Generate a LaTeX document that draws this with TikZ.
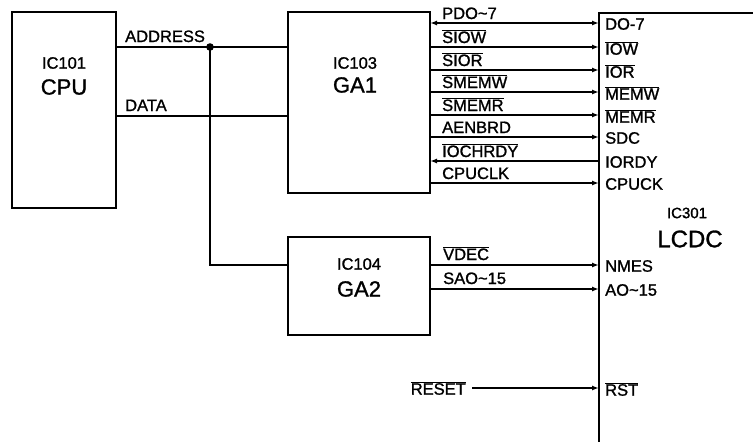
\documentclass[tikz,border=0pt]{standalone}
\usepackage{fontspec}
\setmainfont{Liberation Sans}[FakeBold=1.2]
\usetikzlibrary{arrows.meta}
\newcommand{\ovl}[1]{\ensuremath{\overline{\mbox{#1}}}}
\begin{document}
\begin{tikzpicture}[x=1pt,y=-1pt,
  wire/.style={line width=1.6pt},
  box/.style={draw,line width=2.4pt},
  sig/.style={font=\fontsize{16.5}{16.5}\selectfont,inner sep=0pt,anchor=base west},
  pin/.style={font=\fontsize{16.5}{16.5}\selectfont,inner sep=0pt,anchor=west},
  small/.style={font=\fontsize{16.5}{16.5}\selectfont,inner sep=0pt},
  big/.style={font=\fontsize{22}{22}\selectfont,inner sep=0pt},
  arr/.style={-{Latex[length=7pt,width=5pt]}},
  barr/.style={{Latex[length=7pt,width=5pt]}-{Latex[length=7pt,width=5pt]}},
  larr/.style={{Latex[length=7pt,width=5pt]}-}]
\useasboundingbox (0,0) rectangle (753,445);
\fill[white] (0,0) rectangle (753,445);
% boxes
\draw[box] (12,12) rectangle (116,208);
\draw[box] (288,12) rectangle (430,193);
\draw[box] (288,237) rectangle (430,335);
\draw[box] (760,13) -- (599,13) -- (599,442);
\coordinate (cpuA) at (116,47);
\coordinate (cpuD) at (116,116);
\coordinate (gaA) at (288,47);
\coordinate (gaD) at (288,116);
\coordinate (jn) at (210,47);
\coordinate (g2in) at (288,265);
% labels in boxes
\node[small] (l101) at (64,63) {IC101};
\node[big] (lcpu) at (64,87) {CPU};
\node[small] (l103) at (355,63) {IC103};
\node[big] (lga1) at (355,85) {GA1};
\node[small] (l104) at (359,264) {IC104};
\node[big] (lga2) at (359,289) {GA2};
\node[font=\fontsize{15}{15}\selectfont,inner sep=0pt] (l301) at (687,213) {IC301};
\node[font=\fontsize{24}{24}\selectfont,inner sep=0pt] (llcdc) at (690,239) {LCDC};
% cpu buses
\draw[wire] (cpuA) -- (gaA);
\draw[wire] (cpuD) -- (gaD);
\draw[wire] (jn) |- (g2in);
\fill (jn) circle (3.8pt);
\node[sig] (tA) at (125,42) {ADDRESS};
\node[sig] (tD) at (125,111) {DATA};
% GA1 -> LCDC signals
\foreach \y/\a/\b/\s [count=\i] in {
  23/PDO\textasciitilde 7/DO-7/barr,
  47/\ovl{SIOW}/\ovl{IOW}/arr,
  70/\ovl{SIOR}/\ovl{IOR}/arr,
  92/\ovl{SMEMW}/\ovl{MEMW}/arr,
  115/\ovl{SMEMR}/\ovl{MEMR}/arr,
  137/AENBRD/SDC/arr,
  161/\ovl{IOCHRDY}/IORDY/larr,
  183/CPUCLK/CPUCK/arr}{
  \coordinate (s\i) at (430,\y);
  \coordinate (e\i) at (599,\y);
  \draw[wire,\s] (s\i) -- (e\i);
  \node[sig] (sl\i) at (442,\y-4) {\a};
  \node[pin] (pl\i) at (605,\y+1) {\b};
}
% GA2 -> LCDC
\coordinate (v1) at (430,265);
\coordinate (v2) at (599,265);
\coordinate (a1) at (430,289);
\coordinate (a2) at (599,289);
\draw[wire,arr] (v1) -- (v2);
\draw[wire,arr] (a1) -- (a2);
\node[sig] (tv) at (443,260) {\ovl{VDEC}};
\node[sig] (ta) at (443,284) {SAO\textasciitilde 15};
\node[pin] (pn) at (605,266) {NMES};
\node[pin] (pa) at (605,290) {AO\textasciitilde 15};
% reset
\node[sig,anchor=east] (rs) at (466,388) {\ovl{RESET}};
\coordinate (r1) at (472,388);
\coordinate (r2) at (599,388);
\draw[wire,arr] (r1) -- (r2);
\node[pin] (pr) at (605,389) {\ovl{RST}};
\end{tikzpicture}
\end{document}
